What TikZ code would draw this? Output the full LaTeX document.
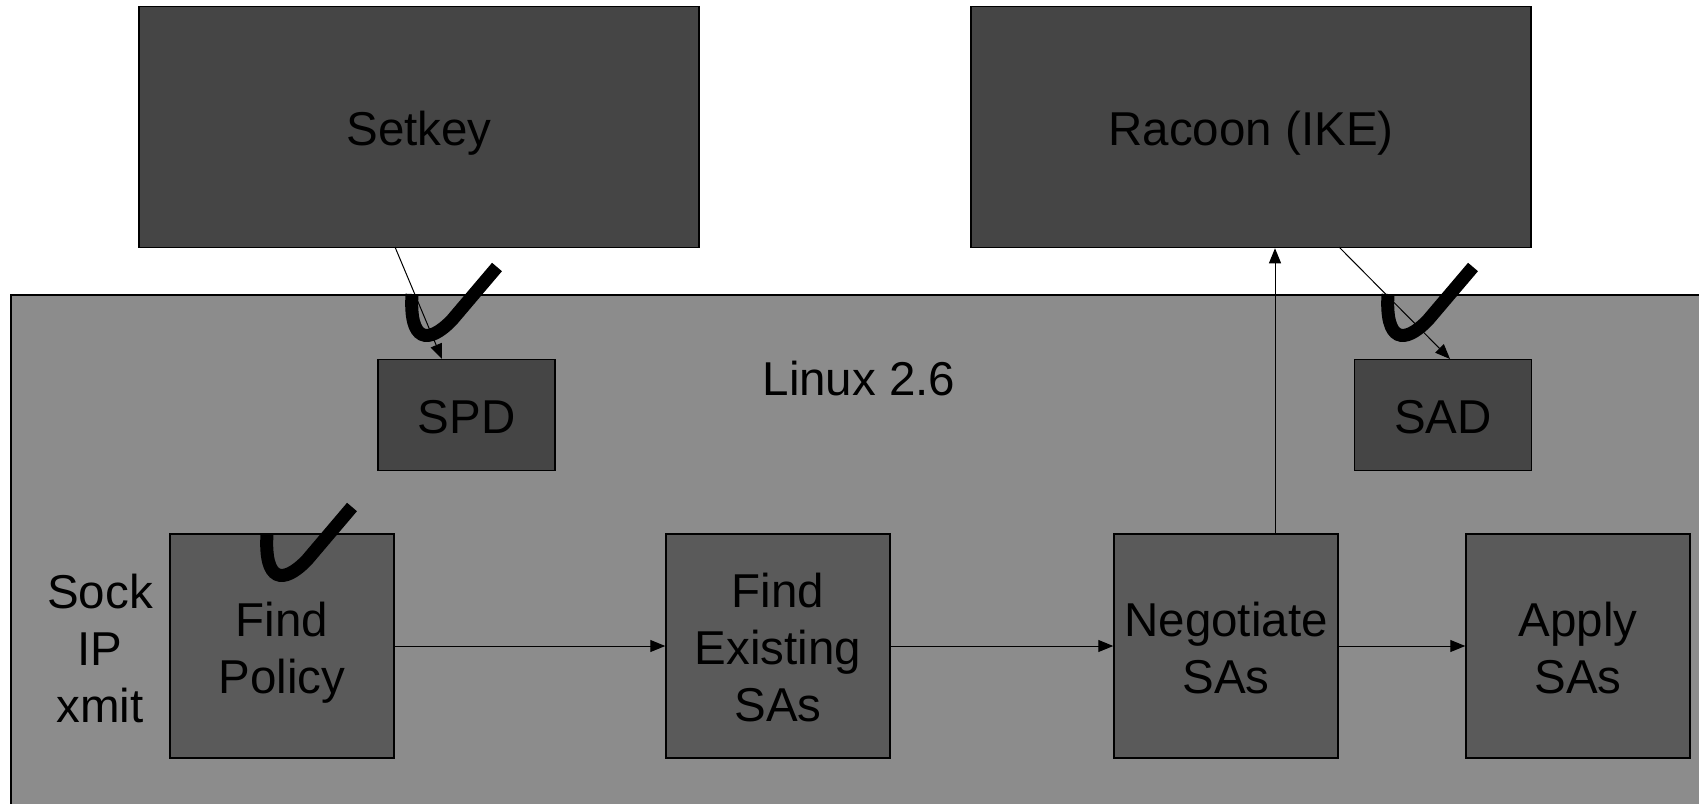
\documentclass[tikz,border=0pt]{standalone}
\usepackage{fontspec}
\setmainfont{Liberation Sans}
\usetikzlibrary{arrows.meta}
\definecolor{darkbox}{HTML}{454545}
\definecolor{midbox}{HTML}{5A5A5A}
\definecolor{kernel}{HTML}{8C8C8C}
\begin{document}
\begin{tikzpicture}[x=1pt,y=-1pt,
  lbl/.style={font=\fontsize{47.5}{57}\selectfont, align=center, text=black, inner sep=0pt},
  boxtext/.style={font=\fontsize{47.5}{57}\selectfont, align=center, text=black, inner sep=0pt},
  bigbox/.style={draw=black, line width=1.5pt, fill=darkbox, inner sep=0pt, minimum width=560pt, minimum height=241pt},
  smallbox/.style={draw=black, line width=1.5pt, fill=darkbox, inner sep=0pt, minimum width=177pt, minimum height=111pt},
  stepbox/.style={draw=black, line width=1.5pt, fill=midbox, inner sep=0pt, minimum width=224pt, minimum height=224pt},
  conn/.style={line width=1pt, -{Triangle[length=15pt,width=12pt]}},
  tick/.style={line width=13pt, line cap=butt}
]
\useasboundingbox (0,0) rectangle (1699,803);
\fill[white] (0,0) rectangle (1699,803);
% kernel area
\draw[line width=1.5pt, fill=kernel] (11,295) rectangle (1720,830);
\node[lbl] (linux) at (859,379) {Linux 2.6};
% user space boxes
\node[bigbox] (setkey) at (419,127) {};
\node[bigbox] (racoon) at (1251,127) {};
% databases
\node[smallbox] (spd) at (466.5,415) {};
\node[smallbox] (sad) at (1443,415) {};
% steps
\node[stepbox] (find) at (282,646) {};
\node[stepbox] (exist) at (778,646) {};
\node[stepbox] (nego) at (1226,646) {};
\node[stepbox] (apply) at (1578,646) {};
\node[lbl] (sock) at (100,648) {Sock\\IP\\xmit};
% box texts
\node[boxtext] (setkeyt) at ([yshift=-7.5pt]setkey.center) {\strut Setkey};
\node[boxtext] (racoont) at ([yshift=-7.5pt]racoon.center) {\strut Racoon (IKE)};
\node[boxtext] (spdt) at ([yshift=-7.5pt]spd.center) {\strut SPD};
\node[boxtext] (sadt) at ([yshift=-7.5pt]sad.center) {\strut SAD};
\node[boxtext] (findt) at ([yshift=-7.5pt]find.center) {\strut Find\\\strut Policy};
\node[boxtext] (existt) at ([yshift=-7.5pt]exist.center) {\strut Find\\\strut Existing\\\strut SAs};
\node[boxtext] (negot) at ([yshift=-7.5pt]nego.center) {\strut Negotiate\\\strut SAs};
\node[boxtext] (applyt) at ([yshift=-7.5pt]apply.center) {\strut Apply\\\strut SAs};
% connectors
\draw[conn] (find.east) -- (exist.west);
\draw[conn] (exist.east) -- (nego.west);
\draw[conn] (nego.east) -- (apply.west);
\draw[conn] (nego.north -| 1275,0) -- (racoon.south -| 1275,0);
\coordinate (sk1) at (395,247);
\coordinate (sk2) at (442,359);
\draw[conn] (sk1) -- (sk2);
\coordinate (rc1) at (1339,247);
\coordinate (rc2) at (1450,359);
\draw[conn] (rc1) -- (rc2);
% check marks
\draw[tick] (412,294) .. controls (409,342) and (428,345) .. (452,320) -- (497,267);
\draw[tick] (1388,294) .. controls (1385,342) and (1404,345) .. (1428,320) -- (1473,267);
\draw[tick] (267,534) .. controls (264,582) and (283,585) .. (307,560) -- (352,507);
\end{tikzpicture}
\end{document}
